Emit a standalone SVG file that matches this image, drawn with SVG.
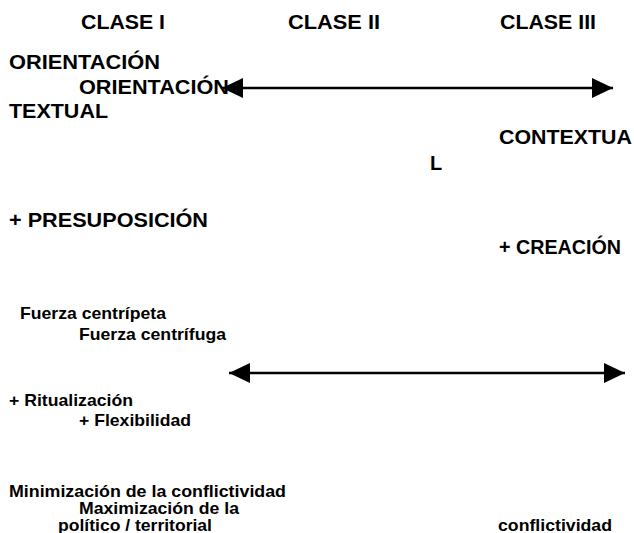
<svg xmlns="http://www.w3.org/2000/svg" width="634" height="533" viewBox="0 0 634 533">
<style>
text{font-family:"Liberation Sans",Arial,sans-serif;font-weight:bold;fill:#000}
.b{font-size:20px}
.s{font-size:16.5px}
.ln{stroke:#000;stroke-width:2.5;fill:none}
</style>
<defs>
<marker id="ah" markerUnits="userSpaceOnUse" markerWidth="21" markerHeight="20" refX="21" refY="10" orient="auto-start-reverse">
<path d="M0,0 L21,10 L0,20 Z" fill="#000"/>
</marker>
</defs>
<rect width="634" height="533" fill="#fff"/>
<g id="header">
<text class="b" x="81" y="29" textLength="84" lengthAdjust="spacingAndGlyphs">CLASE I</text>
<text class="b" x="288" y="29" textLength="92" lengthAdjust="spacingAndGlyphs">CLASE II</text>
<text class="b" x="500" y="29" textLength="96" lengthAdjust="spacingAndGlyphs">CLASE III</text>
</g>
<g id="connectors">
<line class="ln" x1="222" y1="88" x2="613" y2="88" marker-start="url(#ah)" marker-end="url(#ah)"/>
<line class="ln" x1="229" y1="373" x2="625" y2="373" marker-start="url(#ah)" marker-end="url(#ah)"/>
</g>
<g id="orientacion-textual">
<text class="b" x="9" y="69" textLength="151" lengthAdjust="spacingAndGlyphs">ORIENTACIÓN</text>
<text class="b" x="9" y="118" textLength="99" lengthAdjust="spacingAndGlyphs">TEXTUAL</text>
</g>
<g id="orientacion-contextual">
<text class="b" x="79" y="94" textLength="150" lengthAdjust="spacingAndGlyphs">ORIENTACIÓN</text>
<text class="b" x="499" y="144" textLength="133" lengthAdjust="spacingAndGlyphs">CONTEXTUA</text>
<text class="b" x="430" y="170">L</text>
</g>
<g id="presuposicion">
<text class="b" x="9" y="227" textLength="199" lengthAdjust="spacingAndGlyphs">+ PRESUPOSICIÓN</text>
</g>
<g id="creacion">
<text class="b" x="499" y="254" textLength="122" lengthAdjust="spacingAndGlyphs">+ CREACIÓN</text>
</g>
<g id="fuerza">
<text class="s" x="20" y="319" textLength="146" lengthAdjust="spacingAndGlyphs">Fuerza centrípeta</text>
<text class="s" x="79" y="340" textLength="147" lengthAdjust="spacingAndGlyphs">Fuerza centrífuga</text>
</g>
<g id="ritualizacion">
<text class="s" x="9" y="406" textLength="124" lengthAdjust="spacingAndGlyphs">+ Ritualización</text>
<text class="s" x="79" y="426" textLength="112" lengthAdjust="spacingAndGlyphs">+ Flexibilidad</text>
</g>
<g id="conflictividad">
<text class="s" x="9" y="497" textLength="277" lengthAdjust="spacingAndGlyphs">Minimización de la conflictividad</text>
<text class="s" x="79" y="514" textLength="160" lengthAdjust="spacingAndGlyphs">Maximización de la</text>
<text class="s" x="58" y="531" textLength="154" lengthAdjust="spacingAndGlyphs">político / territorial</text>
<text class="s" x="498" y="531" textLength="114" lengthAdjust="spacingAndGlyphs">conflictividad</text>
</g>
</svg>
